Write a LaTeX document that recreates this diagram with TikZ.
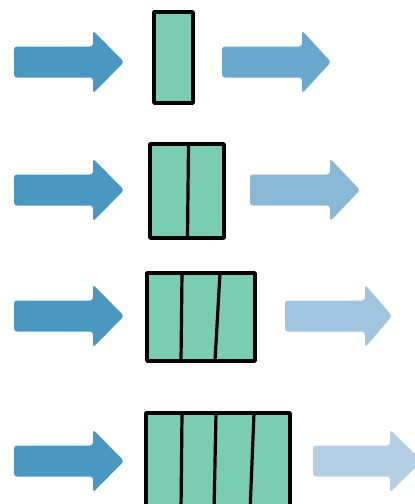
\documentclass[tikz,border=0pt]{standalone}
\definecolor{inblue}{RGB}{74,151,194}
\definecolor{outA}{RGB}{108,168,206}
\definecolor{outB}{RGB}{138,183,214}
\definecolor{outC}{RGB}{162,196,222}
\definecolor{outD}{RGB}{180,206,228}
\definecolor{cellgreen}{RGB}{122,204,178}
\tikzset{
  blockarrow/.style={fill=#1, draw=none, rounded corners=3pt},
  cellbox/.style={fill=cellgreen, draw=black, line width=3.6pt, line join=round},
  divider/.style={draw=black, line width=3.2pt, line cap=round}
}
% \barrow{name}{x0}{xhead}{xtip}{ycenter}{colour}
\newcommand{\barrow}[6]{%
  \coordinate (#1) at (#3,#5);
  \fill[blockarrow=#6] (#2,#5-15.5) -- (#3,#5-15.5) -- (#3,#5-31.5) -- (#4,#5) -- (#3,#5+31.5) -- (#3,#5+15.5) -- (#2,#5+15.5) -- cycle;
}
\begin{document}
\begin{tikzpicture}[x=1pt,y=-1pt]
\useasboundingbox (0,0) rectangle (415,504);
% row 1
\barrow{in1}{14}{93}{124}{62}{inblue}
\draw[cellbox] (154,12) rectangle (193,103);
\node[inner sep=0] (box1) at (173.5,57.5) {};
\barrow{out1}{222}{302}{331}{62}{outA}
% row 2
\barrow{in2}{14}{93}{124}{190}{inblue}
\draw[cellbox] (150,144) rectangle (224,238);
\node[inner sep=0] (box2) at (187,191) {};
\draw[divider] (188.5,144) -- (187.5,238);
\barrow{out2}{250}{330}{360}{190}{outB}
% row 3
\barrow{in3}{14}{93}{124}{316}{inblue}
\draw[cellbox] (147,273) rectangle (255,361);
\node[inner sep=0] (box3) at (201,317) {};
\draw[divider] (182,273) -- (181,361);
\draw[divider] (220,273) -- (215,361);
\barrow{out3}{285}{365}{392}{316}{outC}
% row 4
\barrow{in4}{14}{93}{124}{461}{inblue}
\draw[cellbox] (146,413) rectangle (290,512);
\node[inner sep=0] (box4) at (218,460) {};
\draw[divider] (182,413) -- (181,512);
\draw[divider] (216,413) -- (214,512);
\draw[divider] (254,413) -- (250,512);
\barrow{out4}{313}{390}{422}{461}{outD}
\end{tikzpicture}
\end{document}
